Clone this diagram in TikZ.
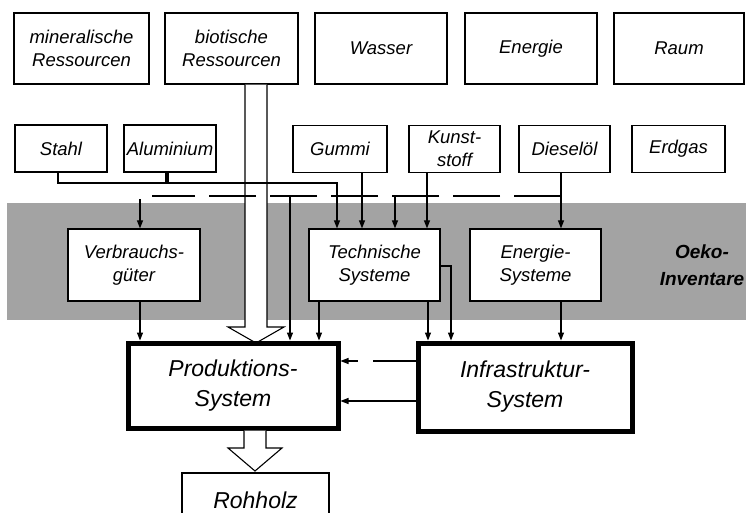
\documentclass[tikz,border=0pt]{standalone}
\usepackage{fontspec}
\setmainfont{Liberation Sans}
\usetikzlibrary{arrows.meta}
\begin{document}
\begin{tikzpicture}[x=1pt,y=-1pt,
  box/.style={draw,line width=1.2pt,fill=white,inner sep=0pt,align=center,font=\fontsize{18.5}{23}\selectfont\itshape},
  bigbox/.style={draw,line width=5pt,fill=white,inner sep=0pt,align=center,font=\fontsize{23}{30}\selectfont\itshape},
  conn/.style={line width=1.1pt,-{Triangle[length=8pt,width=6pt]}},
  plain/.style={line width=1.1pt},
  hollow/.style={draw,line width=1.1pt,fill=white,line join=miter},
  shade/.style={fill=black!36}]
\clip (0,0) rectangle (746,513);
% shaded inventory band
\fill[shade] (7,203) rectangle (746,320);

% row 1
\node[box,minimum width=135pt,minimum height=71pt] (min) at (81.5,48.5) {mineralische\\Ressourcen};
\node[box,minimum width=133pt,minimum height=71pt] (bio) at (231.5,48.5) {biotische\\Ressourcen};
\node[box,minimum width=132pt,minimum height=71pt] (was) at (381,48.5) {Wasser};
\node[box,minimum width=132pt,minimum height=71pt] (ene) at (531,48.5) {Energie};
\node[box,minimum width=130pt,minimum height=71pt] (rau) at (679,48.5) {Raum};

% row 2
\node[box,minimum width=92pt,minimum height=47pt] (sta) at (61,148.5) {Stahl};
\node[box,minimum width=92pt,minimum height=47pt] (alu) at (170,148.5) {Aluminium};
\node[box,minimum width=94pt,minimum height=47pt] (gum) at (340,149) {Gummi};
\node[box,minimum width=91pt,minimum height=47pt] (kun) at (454.5,149) {Kunst-\\stoff};
\node[box,minimum width=91pt,minimum height=47pt] (die) at (564.5,149) {Diesel\"ol};
\node[box,minimum width=93pt,minimum height=47pt] (erd) at (678.5,149) {Erdgas};

% hollow arrow biotic -> production
\coordinate (bioL) at (245,0);
\coordinate (bioR) at (267,0);
\path[hollow] (bioL |- bio.south) -- (245,327) -- (228,327) -- (256,343) -- (284,327) -- (267,327) -- (bioR |- bio.south);

% row 3
\node[box,minimum width=132pt,minimum height=72pt] (ver) at (134,265) {Verbrauchs-\\g\"uter};
\node[box,minimum width=131pt,minimum height=72pt] (tec) at (374.5,265) {Technische\\Systeme};
\node[box,minimum width=131pt,minimum height=72pt] (ens) at (535.5,265) {Energie-\\Systeme};
\node[font=\fontsize{19}{27}\selectfont\bfseries\itshape,align=center,inner sep=0pt] (oek) at (702,265) {Oeko-\\Inventare};

% big boxes
\node[bigbox,minimum width=210pt,minimum height=85pt] (pro) at (233,385.5) {Produktions-\\System};
\node[bigbox,minimum width=214pt,minimum height=88pt] (inf) at (525,387) {Infrastruktur-\\System};
\node[box,minimum width=147pt,minimum height=54pt,font=\fontsize{23}{28}\selectfont\itshape] (roh) at (255.5,500) {Rohholz};

% hollow arrow production -> Rohholz
\coordinate (rL) at (244,0);
\coordinate (rR) at (266,0);
\path[hollow] (rL |- pro.south) -- (244,448) -- (228,448) -- (255,471) -- (282,448) -- (266,448) -- (rR |- pro.south);

% helper positions
\coordinate (x58) at (58,183);
\coordinate (x337) at (337,183);
\coordinate (x167) at (167,183);
\coordinate (x362) at (362,0);
\coordinate (x427) at (427,0);
\coordinate (x561) at (561,196);
\coordinate (d152) at (152,196);
\coordinate (d140) at (140,199);
\coordinate (d290) at (290,196);
\coordinate (d395) at (395,196);
\coordinate (x140) at (140,0);
\coordinate (x319) at (319,0);
\coordinate (x428) at (428,0);
\coordinate (r451) at (451,266);
\coordinate (y361) at (0,361);
\coordinate (y401) at (0,401);

% Stahl / Aluminium -> Technische Systeme
\draw[conn] (x58 |- sta.south) -- (x58) -- (x337) -- (x337 |- tec.north);
\draw[line width=3.5pt] (x167 |- alu.south) -- (x167);
% Gummi, Kunststoff
\draw[conn] (x362 |- gum.south) -- (x362 |- tec.north);
\draw[conn] (x427 |- kun.south) -- (x427 |- tec.north);
% Dieseloel
\draw[conn] (x561 |- die.south) -- (x561 |- ens.north);
\draw[plain,dash pattern=on 47pt off 14pt] (x561) -- (d152);
\draw[conn] (d140) -- (d140 |- ver.north);
\draw[conn] (d290) -- (d290 |- pro.north);
\draw[conn] (d395) -- (d395 |- tec.north);

% inventories -> systems
\draw[conn] (x140 |- ver.south) -- (x140 |- pro.north);
\draw[conn] (x319 |- tec.south) -- (x319 |- pro.north);
\draw[conn] (x428 |- tec.south) -- (x428 |- inf.north);
\draw[conn] (tec.east |- r451) -- (r451) -- (r451 |- inf.north);
\draw[conn] (x561 |- ens.south) -- (x561 |- inf.north);

% Infrastruktur -> Produktion
\draw[conn,dash pattern=on 43pt off 15pt] (inf.west |- y361) -- (pro.east |- y361);
\draw[conn] (inf.west |- y401) -- (pro.east |- y401);
\end{tikzpicture}
\end{document}
